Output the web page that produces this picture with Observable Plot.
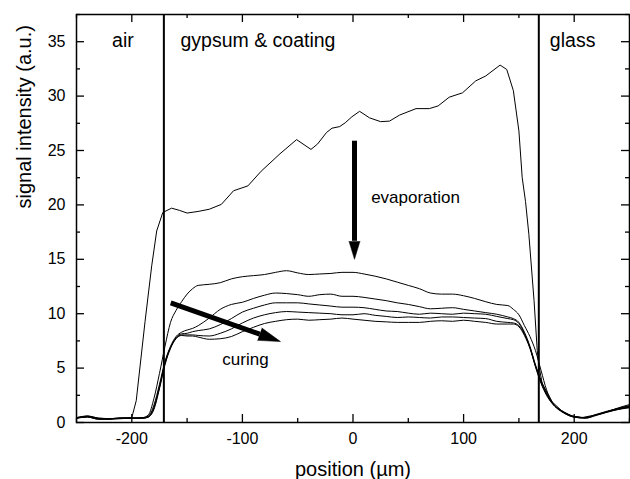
<!DOCTYPE html>
<html>
<head>
<meta charset="utf-8">
<script src="https://cdn.jsdelivr.net/npm/d3@7"></script>
<script src="https://cdn.jsdelivr.net/npm/@observablehq/plot@0.6"></script>
<style>
  html, body { margin: 0; padding: 0; background: #fff; }
  #chart { width: 630px; height: 479px; }
</style>
</head>
<body>
<div id="chart"></div>
<script>
// ---------- data ----------
// first profile (before evaporation)
const topX = [-250,-240,-230,-220,-210,-200,-196,-188,-182,-177.5,-172,-164,-157,-150,-140,-130,-119,-108,-95,-83,-66,-51,-38,-32,-24,-19,-12,-7,-1,6,15,25,33,42,57,69,77,87,99,111,120,133,139,145,150,153,156,159,163.7,166.6,168,171,180,189,198,207,222,237,250];
const topY = [0.45,0.6,0.4,0.35,0.4,0.45,2.0,9.3,14.4,17.6,19.3,19.7,19.5,19.25,19.4,19.6,20.05,21.3,21.75,23.1,24.7,26.0,25.1,25.6,26.65,27.05,27.2,27.55,28.1,28.6,28.0,27.65,27.7,28.25,28.85,28.85,29.1,29.9,30.3,31.4,31.85,32.85,32.45,30.5,26.8,22.5,20.3,17.3,11.2,6.6,5.3,3.6,1.9,1.05,0.6,0.45,0.75,1.15,1.45];

// later profiles (curing), shared position grid
const gridX = [-250,-240,-230,-220,-210,-200,-190,-185,-180,-175,-170,-165,-160,-155,-150,-145,-140,-130,-120,-110,-100,-90,-80,-70,-60,-50,-40,-30,-20,-10,0,10,20,30,40,50,60,70,80,90,100,110,120,130,140,145,150,155,160,165,170,175,180,190,200,210,220,230,240,250];
const curve1 = [0.45,0.6,0.4,0.35,0.4,0.4,0.45,0.7,2.2,4.5,7.0,9.2,10.3,11.1,11.8,12.3,12.6,12.7,12.85,13.2,13.4,13.5,13.6,13.8,13.95,13.75,13.6,13.65,13.7,13.8,13.8,13.65,13.45,13.2,12.9,12.6,12.3,11.9,11.8,11.8,11.65,11.4,11.1,10.85,10.75,10.4,9.9,8.9,7.9,6.6,4.8,3.0,1.9,1.0,0.55,0.45,0.7,1.0,1.35,1.65];
const curve2 = [0.4,0.55,0.35,0.3,0.4,0.4,0.45,0.6,1.6,3.5,5.6,7.0,7.9,8.3,8.5,8.65,8.9,9.6,10.4,10.85,11.05,11.4,11.7,11.9,11.85,11.75,11.6,11.75,11.8,11.6,11.6,11.5,11.35,11.2,11.0,10.85,10.65,10.45,10.5,10.55,10.4,10.25,10.1,9.95,9.7,9.55,9.2,8.3,7.0,5.3,3.9,2.7,1.85,1.0,0.55,0.45,0.7,1.0,1.3,1.55];
const curve3 = [0.4,0.5,0.3,0.35,0.4,0.4,0.4,0.55,1.4,3.3,5.5,6.9,7.8,8.15,8.2,8.35,8.45,8.6,9.0,9.55,10.15,10.5,10.8,11.0,11.0,11.0,10.9,10.8,10.7,10.6,10.6,10.55,10.4,10.25,10.2,10.05,9.95,10.05,10.0,9.95,10.05,10.0,9.95,9.75,9.55,9.45,9.1,8.2,6.9,5.2,3.8,2.6,1.8,0.95,0.5,0.45,0.75,1.05,1.3,1.5];
const curve4 = [0.4,0.55,0.35,0.3,0.35,0.4,0.4,0.5,1.3,3.2,5.4,6.9,7.75,8.05,8.05,8.05,8.0,7.95,8.2,8.6,9.15,9.6,9.9,10.1,10.2,10.15,10.1,10.05,10.0,9.9,9.9,10.0,9.85,9.75,9.65,9.7,9.65,9.6,9.7,9.7,9.65,9.6,9.55,9.3,9.2,9.15,8.9,8.1,6.9,5.2,3.7,2.6,1.8,0.95,0.5,0.4,0.7,1.0,1.25,1.4];
const curve5 = [0.4,0.5,0.3,0.35,0.4,0.4,0.4,0.5,1.2,3.1,5.3,6.8,7.7,8.0,7.95,7.95,7.85,7.65,7.7,7.9,8.35,8.75,9.1,9.3,9.45,9.5,9.4,9.45,9.5,9.6,9.5,9.4,9.3,9.25,9.2,9.2,9.2,9.3,9.35,9.3,9.4,9.3,9.2,9.05,9.05,9.05,8.8,8.0,6.8,5.1,3.6,2.5,1.75,0.9,0.5,0.4,0.65,0.95,1.2,1.35];
const laterCurves = [curve1, curve2, curve3, curve4, curve5];

// layer boundaries and labels
const boundaries = [-171, 168];
const regionNames = ["air", "gypsum & coating", "glass"];
const regionX = [-208, -156, 178];
const regionAnchor = ["middle", "start", "start"];
const regionY = 35.05;

// arrow annotations
const arrowNames = ["evaporation", "curing"];
const arrowStartX = [1.35, -164.8];
const arrowStartY = [25.9, 11.0];
const arrowBaseX = [1.35, -84.3];
const arrowBaseY = [16.7, 8.12];
const arrowTipX = [1.35, -65.6];
const arrowTipY = [15.0, 7.44];
const arrowAngle = [180, 109.5];
const arrowHeadLen = [18, 22];
const arrowHeadR = [5.5, 6.5];
const arrowTextX = [16.4, -97.2];
const arrowTextY = [20.7, 5.75];
const arrowTextAnchor = ["start", "middle"];

// ticks
const xMajor = [-200, -100, 0, 100, 200];
const xMinor = [-250, -150, -50, 50, 150, 250];
const yMajor = [0, 5, 10, 15, 20, 25, 30, 35];
const yMinor = [2.5, 7.5, 12.5, 17.5, 22.5, 27.5, 32.5, 37.5];
const xTitle = "position (µm)";
const yTitle = "signal intensity (a.u.)";

// ---------- build ----------
const W = 630, H = 479;
const mL = 76, mR = 1, mT = 14, mB = 57;
const pW = W - mL - mR, pH = H - mT - mB;
const majLen = 8, minLen = 4;

const topData = topX.map((x, i) => ({x, y: topY[i]}));
const laterData = laterCurves.flatMap((c, k) => gridX.map((x, i) => ({x, y: c[i], k})));

const regionMarks = regionNames.map((t, i) =>
  Plot.text([t], {x: () => regionX[i], y: () => regionY, text: d => d, textAnchor: regionAnchor[i], fontSize: 19.5, lineAnchor: "middle"})
);

const arrowMarks = arrowNames.flatMap((t, i) => [
  Plot.link([t], {x1: () => arrowStartX[i], y1: () => arrowStartY[i], x2: () => arrowBaseX[i], y2: () => arrowBaseY[i], stroke: "black", strokeWidth: 5, strokeLinecap: "butt"}),
  Plot.vector([t], {x: () => arrowTipX[i], y: () => arrowTipY[i], rotate: arrowAngle[i], length: arrowHeadLen[i], r: arrowHeadR[i], anchor: "end", shape: "spike", fill: "black", stroke: "black", strokeWidth: 0.5}),
  Plot.text([t], {x: () => arrowTextX[i], y: () => arrowTextY[i], text: d => d, textAnchor: arrowTextAnchor[i], fontSize: 17, lineAnchor: "middle"})
]);

const chart = Plot.plot({
  width: W, height: H,
  marginLeft: mL, marginRight: mR, marginTop: mT, marginBottom: mB,
  style: {fontFamily: "'Liberation Sans', Arial, sans-serif", background: "#fff", color: "black"},
  x: {domain: [-250, 250]},
  y: {domain: [0, 37.5]},
  marks: [
    // curves
    Plot.line(laterData, {x: "x", y: "y", z: "k", stroke: "black", strokeWidth: 1, curve: "monotone-x"}),
    Plot.line(topData, {x: "x", y: "y", stroke: "black", strokeWidth: 1}),
    // boundaries
    Plot.ruleX(boundaries, {x: d => d, stroke: "black", strokeWidth: 2}),
    // ticks (inward)
    Plot.ruleX(xMajor, {x: d => d, insetTop: pH - majLen, stroke: "black", strokeWidth: 1.3}),
    Plot.ruleX(xMajor, {x: d => d, insetBottom: pH - majLen, stroke: "black", strokeWidth: 1.3}),
    Plot.ruleX(xMinor, {x: d => d, insetTop: pH - minLen, stroke: "black", strokeWidth: 1.3}),
    Plot.ruleX(xMinor, {x: d => d, insetBottom: pH - minLen, stroke: "black", strokeWidth: 1.3}),
    Plot.ruleY(yMajor, {y: d => d, insetRight: pW - majLen, stroke: "black", strokeWidth: 1.3}),
    Plot.ruleY(yMajor, {y: d => d, insetLeft: pW - majLen, stroke: "black", strokeWidth: 1.3}),
    Plot.ruleY(yMinor, {y: d => d, insetRight: pW - minLen, stroke: "black", strokeWidth: 1.3}),
    Plot.ruleY(yMinor, {y: d => d, insetLeft: pW - minLen, stroke: "black", strokeWidth: 1.3}),
    // tick labels
    Plot.axisX({ticks: xMajor, tickSize: 0, tickPadding: 10, fontSize: 16, label: null, tickFormat: d => String(d)}),
    Plot.axisY({ticks: yMajor, tickSize: 0, tickPadding: 11, fontSize: 16, label: null, tickFormat: d => String(d)}),
    // axis titles
    Plot.text([xTitle], {text: d => d, frameAnchor: "bottom", dy: 47, fontSize: 20, lineAnchor: "middle"}),
    Plot.text([yTitle], {text: d => d, frameAnchor: "left", dx: -52, dy: -10, rotate: -90, fontSize: 20, lineAnchor: "middle"}),
    // region labels
    ...regionMarks,
    // arrows
    ...arrowMarks,
    // frame
    Plot.frame({stroke: "black", strokeWidth: 1.5})
  ]
});
document.getElementById("chart").appendChild(chart);
</script>
</body>
</html>
